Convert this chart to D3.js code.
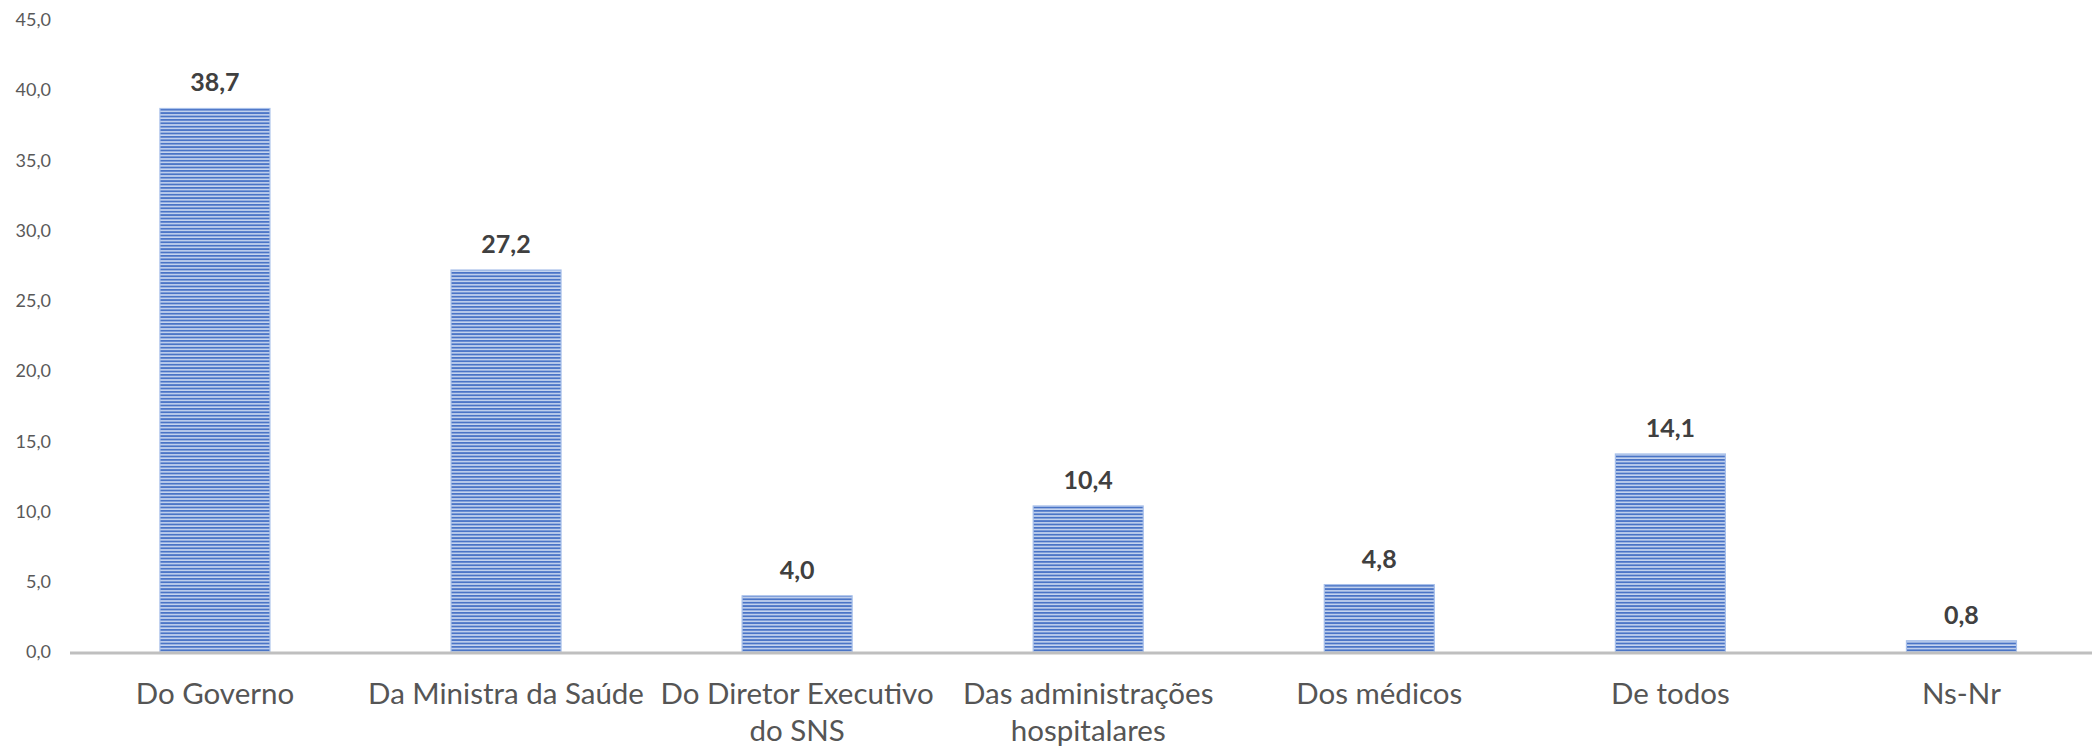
<!DOCTYPE html>
<html><head><meta charset="utf-8">
<script src="https://cdn.jsdelivr.net/npm/d3@7"></script>
<style>html,body{margin:0;padding:0;background:#fff;}svg{display:block;}</style>
</head><body>
<script>
const categories = [
  ["Do Governo"],
  ["Da Ministra da Saúde"],
  ["Do Diretor Executivo", "do SNS"],
  ["Das administrações", "hospitalares"],
  ["Dos médicos"],
  ["De todos"],
  ["Ns-Nr"]
];
const values = [38.7, 27.2, 4.0, 10.4, 4.8, 14.1, 0.8];
const yTicks = [0, 5, 10, 15, 20, 25, 30, 35, 40, 45];

const W = 2092, H = 749;
const svg = d3.select("body").append("svg").attr("width", W).attr("height", H);
const FONT = "Lato, 'Open Sans', sans-serif";

const defs = svg.append("defs");
const pat = defs.append("pattern").attr("id", "stripes")
  .attr("patternUnits", "userSpaceOnUse").attr("width", 10).attr("height", 3.4);
pat.append("rect").attr("width", 10).attr("height", 3.4).attr("fill", "#c6d5ef");
pat.append("rect").attr("width", 10).attr("height", 1.8).attr("fill", "#4a74c6");

const keys = categories.map((c, i) => i);
const x = d3.scaleBand().domain(keys).range([69.4, 2107]).paddingInner(0.622).paddingOuter(0.311);
const y = d3.scaleLinear().domain([0, 45]).range([652, 20]);

// y axis labels
const yAxis = svg.append("g").attr("transform", "translate(51,0)")
  .call(d3.axisLeft(y).tickValues(yTicks).tickSize(0).tickPadding(0)
    .tickFormat(d => d3.format(".1f")(d).replace(".", ",")));
yAxis.select(".domain").remove();
yAxis.selectAll("text").attr("font-family", FONT).attr("font-size", 18).attr("fill", "#595959");

// bars
svg.append("g").selectAll("rect").data(values).join("rect")
  .attr("x", (d, i) => x(i))
  .attr("width", x.bandwidth())
  .attr("y", d => y(d))
  .attr("height", d => y(0) - y(d))
  .attr("fill", "url(#stripes)")
  .attr("stroke", "#a8c0ea").attr("stroke-width", 1.2);

// x axis line
svg.append("line").attr("x1", 70).attr("x2", W).attr("y1", 653).attr("y2", 653)
  .attr("stroke", "#bfbfbf").attr("stroke-width", 3.2);

// value labels
svg.append("g").selectAll("text").data(values).join("text")
  .attr("x", (d, i) => x(i) + x.bandwidth() / 2)
  .attr("y", d => y(d) - 17)
  .attr("text-anchor", "middle")
  .attr("font-family", FONT).attr("font-weight", "bold").attr("font-size", 25)
  .attr("fill", "#404040")
  .text(d => d3.format(".1f")(d).replace(".", ","));

// category labels
const xl = svg.append("g").selectAll("text").data(categories).join("text")
  .attr("text-anchor", "middle")
  .attr("font-family", FONT).attr("font-size", 29.5).attr("fill", "#555555");
xl.each(function(lines, i) {
  const t = d3.select(this);
  lines.forEach((ln, j) => {
    t.append("tspan").attr("x", x(i) + x.bandwidth() / 2).attr("y", 704 + j * 37).text(ln);
  });
});
</script>
</body></html>
